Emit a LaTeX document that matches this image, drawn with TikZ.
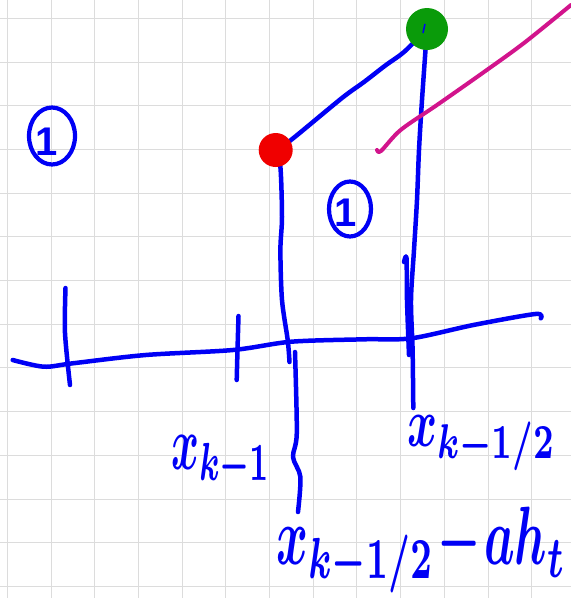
\documentclass[tikz,border=0pt]{standalone}
\usepackage{fontspec}
\newfontfamily\handsans{Liberation Sans}
\usetikzlibrary{shapes.geometric}
\definecolor{pen}{RGB}{0,0,245}
\definecolor{dotred}{RGB}{240,0,0}
\definecolor{dotgreen}{RGB}{10,155,10}
\definecolor{pinkpen}{RGB}{210,20,140}
\definecolor{gridc}{RGB}{220,220,220}
\pgfdeclarelayer{fg}
\pgfsetlayers{main,fg}
\newcommand{\handmath}[3]{\resizebox*{#1}{#2}{\boldmath$#3$}}
\begin{document}
\begin{tikzpicture}[x=1pt,y=-1pt,
  ink/.style={draw=pen,line width=4.5pt,line cap=round,line join=round},
  pinkink/.style={draw=pinkpen,line width=4pt,line cap=round,line join=round},
  blob/.style={circle,inner sep=0pt},
  region/.style={ellipse,draw=pen,line width=4.2pt,inner sep=0pt},
  regionnum/.style={text=pen,font=\handsans\bfseries\fontsize{40}{40}\selectfont,inner sep=0pt},
  lab/.style={text=pen,inner sep=0pt,anchor=north west}]
\useasboundingbox (0,0) rectangle (571,598);
\fill[white] (0,0) rectangle (571,598);
% grid paper
\foreach \i in {0,...,12} \draw[gridc,line width=1pt] ({7.3+43.7*\i},0) -- ({7.3+43.7*\i},598);
\foreach \j in {0,...,13} \draw[gridc,line width=1pt] (0,{18.3+43.7*\j}) -- (571,{18.3+43.7*\j});
% points
\begin{pgfonlayer}{fg}
\node[blob,fill=dotred,minimum size=34pt] (rd) at (275.7,150) {};
\node[blob,fill=dotgreen,minimum size=42pt] (gd) at (427,29) {};
\draw[pen,line width=1.5pt] (425,24) -- (423,33);
\end{pgfonlayer}
% region labels
\node[region,minimum width=46pt,minimum height=57pt] (o1) at (52,136) {};
\node[regionnum] (n1) at (47,142) {1};
\node[region,minimum width=42pt,minimum height=55pt] (o2) at (350,209) {};
\node[regionnum] (n2) at (346,213) {1};
% connector between the two points
\draw[ink] plot[smooth] coordinates {(rd.center) (291,140) (342,98) (364,82) (386,65) (404,52) (gd.center)};
% vertical lines
\draw[ink] plot[smooth] coordinates {(rd.center) (280.4,167) (282,217) (280.4,250) (282,300) (287.7,340) (289.5,362)};
\draw[ink] plot[smooth] coordinates {(295,352) (296.8,433) (293,457) (300.4,477) (298,512)};
\draw[ink] plot[smooth] coordinates {(gd.center) (422,100) (419,150) (417,200) (414,250) (411,300) (412.6,350) (413.3,408)};
\draw[ink] plot[smooth] coordinates {(404,262) (406.5,258) (407,300) (409,355)};
% axis
\draw[ink] plot[smooth] coordinates {(12.7,360) (43.7,366.7) (72.8,363.3) (145.7,355) (233,350) (291.3,341.7) (364,339.3) (411.5,338.3) (473.4,325) (535.3,314) (540.8,318.3)};
\draw[ink] plot[smooth] coordinates {(65.5,288) (65,333) (70,385)};
\draw[ink] plot[smooth] coordinates {(238.5,316) (237.5,350) (236.7,380)};
% characteristic line
\draw[pinkink] plot[smooth] coordinates {(377,150) (381,151) (400.6,130) (437,105) (484,72) (524,43) (571,5)};
% labels
\node[lab] (l1) at (171,435) {\handmath{100pt}{55pt}{x_{k-1}}};
\node[lab] (l2) at (407,415) {\handmath{149pt}{55pt}{x_{k-1/2}}};
\node[lab] (l3) at (276,507) {\handmath{290pt}{86pt}{x_{k-1/2}\!-\!ah_t}};
\end{tikzpicture}
\end{document}
